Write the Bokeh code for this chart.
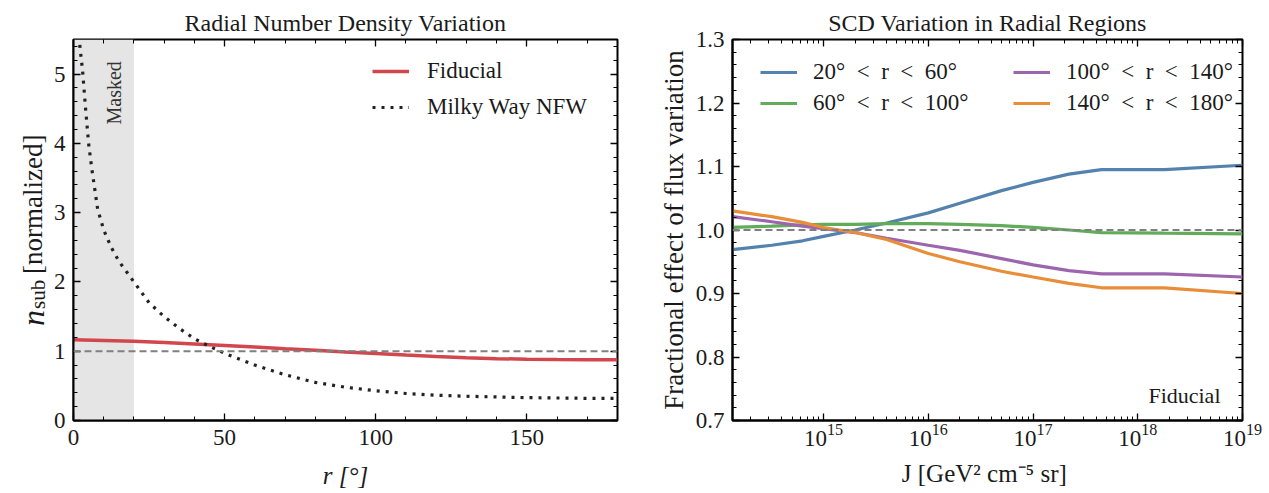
import math
from bokeh.plotting import figure
from bokeh.models import (Label, Legend, LegendItem, Span, BoxAnnotation, LinearAxis, LogAxis,
                          SingleIntervalTicker, LogTicker, NumeralTickFormatter, CustomJSTickFormatter)
from bokeh.layouts import row
from bokeh.embed import file_html
from bokeh.resources import INLINE

FONT = "Liberation Serif"
INK = "#1a1a1a"

# ---------------- data: left panel ----------------
r_fid = [0, 10, 20, 30, 40, 50, 60, 70, 80, 90, 100, 110, 120, 130, 140, 150, 160, 170, 180]
n_fid = [1.165, 1.155, 1.145, 1.125, 1.105, 1.083, 1.06, 1.036, 1.013, 0.99, 0.968, 0.945,
         0.925, 0.907, 0.893, 0.885, 0.88, 0.878, 0.877]
r_nfw = [1.0, 1.5, 2, 3, 4, 5, 6, 8, 10, 12.5, 15, 20, 25, 30, 35, 40, 45, 50, 60, 70, 80,
         90, 100, 110, 120, 130, 140, 150, 160, 170, 180]
n_nfw = [6.2, 5.6, 5.45, 5.05, 4.5, 4.0, 3.65, 3.05, 2.75, 2.5, 2.3, 2.0, 1.7, 1.5, 1.33, 1.18,
         1.07, 0.97, 0.80, 0.66, 0.55, 0.48, 0.43, 0.39, 0.365, 0.35, 0.34, 0.33, 0.325, 0.32, 0.32]
mask_edge = 20

# ---------------- data: right panel ----------------
J = [1.35e14, 3.2e14, 6.3e14, 1e15, 2e15, 4e15, 1e16, 2e16, 5e16, 1e17, 2.2e17, 4.5e17, 1.8e18, 1e19]
f_20_60 = [0.969, 0.976, 0.983, 0.990, 1.000, 1.011, 1.027, 1.042, 1.062, 1.075, 1.088, 1.095, 1.095, 1.102]
f_60_100 = [1.004, 1.006, 1.008, 1.009, 1.009, 1.010, 1.010, 1.009, 1.007, 1.004, 1.000, 0.996, 0.995, 0.994]
f_100_140 = [1.021, 1.013, 1.006, 1.002, 0.996, 0.987, 0.976, 0.968, 0.955, 0.945, 0.936, 0.931, 0.931, 0.926]
f_140_180 = [1.030, 1.021, 1.012, 1.004, 0.996, 0.985, 0.963, 0.950, 0.935, 0.926, 0.916, 0.909, 0.909, 0.900]
SP = "\u2002"
region_labels = [f"20°{SP}<{SP}r{SP}<{SP}60°", f"60°{SP}<{SP}r{SP}<{SP}100°",
                 f"100°{SP}<{SP}r{SP}<{SP}140°", f"140°{SP}<{SP}r{SP}<{SP}180°"]
region_colors = ["#5482ae", "#62ab5b", "#9d65ae", "#e88d38"]

# ---------------- geometry ----------------
H = 493
FH = 381
PB_TOP, PB_BOT = 39, 73
YLAB_W, MID_W = 50, 50
P1_L, FW1, P1_R = 22, 545, 23
P2_L, FW2, P2_R = 42, 510, 27


def blank_formatter():
    return CustomJSTickFormatter(code="return ''")


def style_axis(ax, labels=True, standoff=8):
    ax.major_tick_in = 7
    ax.major_tick_out = 0
    ax.minor_tick_in = 4
    ax.minor_tick_out = 0
    ax.major_tick_line_color = "black"
    ax.minor_tick_line_color = "black"
    ax.major_tick_line_width = 1.3
    ax.minor_tick_line_width = 1.0
    ax.axis_line_color = "black"
    ax.axis_line_width = 2
    ax.major_label_text_font = FONT
    ax.major_label_text_font_size = "23px"
    ax.major_label_text_color = INK
    ax.major_label_standoff = standoff
    ax.axis_label_text_font = FONT
    ax.axis_label_text_font_size = "25px"
    ax.axis_label_text_color = INK
    ax.axis_label_text_font_style = "normal"
    if not labels:
        ax.formatter = blank_formatter()
        ax.major_label_text_font_size = "0px"
        ax.major_label_standoff = 0
        ax.axis_line_color = None


def strip(w, h):
    s = figure(width=w, height=h, x_range=(0, w), y_range=(0, h), output_backend="svg",
               toolbar_location=None, title=None, min_border=0, frame_align=False,
               x_axis_location=None, y_axis_location=None)
    s.grid.visible = False
    s.outline_line_color = None
    return s


def txt(p, text, x, y, size, angle=0.0, align="left", baseline="alphabetic", style="normal",
        color=INK):
    p.add_layout(Label(x=x, y=y, text=text, angle=angle, text_align=align,
                       text_baseline=baseline, text_font=FONT, text_font_size=size,
                       text_font_style=style, text_color=color))


def style_title(p, text):
    p.title.text = text
    p.title.align = "center"
    p.title.text_font = FONT
    p.title.text_font_size = "24px"
    p.title.text_font_style = "normal"
    p.title.text_color = INK
    p.title.standoff = 8


# ================= left plot =================
p1 = figure(width=P1_L + FW1 + P1_R, height=H, x_range=(0, 180), y_range=(0, 5.5),
            output_backend="svg", toolbar_location=None, frame_align=False,
            min_border_left=P1_L, min_border_right=P1_R, min_border_top=PB_TOP,
            min_border_bottom=PB_BOT)
p1.grid.visible = False
p1.outline_line_color = "black"
p1.outline_line_width = 2
style_title(p1, "Radial Number Density Variation")

p1.xaxis.ticker = SingleIntervalTicker(interval=50, num_minor_ticks=5)
p1.yaxis.ticker = SingleIntervalTicker(interval=1, num_minor_ticks=5)
style_axis(p1.xaxis[0], standoff=9)
style_axis(p1.yaxis[0])
p1.xaxis.axis_label = "r [°]"
p1.xaxis.axis_label_text_font_style = "italic"
p1.xaxis.axis_label_standoff = 14
top1 = LinearAxis(ticker=SingleIntervalTicker(interval=50, num_minor_ticks=5))
right1 = LinearAxis(ticker=SingleIntervalTicker(interval=1, num_minor_ticks=5))
style_axis(top1, False)
style_axis(right1, False)
p1.add_layout(top1, "above")
p1.add_layout(right1, "right")

p1.add_layout(BoxAnnotation(left=0, right=mask_edge, fill_color="#e5e5e5", fill_alpha=1.0,
                            line_color=None, level="underlay"))
p1.add_layout(Span(location=1.0, dimension="width", line_color="#808080", line_width=2,
                   line_dash="7 4"))

l_fid = p1.line(r_fid, n_fid, line_color="#d1474d", line_width=3.5)
l_nfw = p1.line(r_nfw, n_nfw, line_color="#222222", line_width=3.2, line_dash="3 6",
                line_cap="butt")

leg1 = Legend(items=[LegendItem(label="Fiducial", renderers=[l_fid]),
                     LegendItem(label="Milky Way NFW", renderers=[l_nfw])],
              location=(299, 300), padding=0, margin=0, spacing=10, label_height=24,
              glyph_width=37, glyph_height=24, label_standoff=18,
              label_text_font=FONT, label_text_font_size="23px", label_text_color=INK,
              border_line_color=None, background_fill_alpha=0)
p1.add_layout(leg1)

p1.add_layout(Label(x=13.5, y=4.73, text="Masked", angle=math.pi / 2, text_align="center",
                    text_baseline="middle", text_font=FONT, text_font_size="20px",
                    text_color="#333333"))

# ================= right plot =================
p2 = figure(width=P2_L + FW2 + P2_R, height=H, x_range=(1.35e14, 1e19), y_range=(0.7, 1.3),
            x_axis_type="log", output_backend="svg", toolbar_location=None, frame_align=False,
            min_border_left=P2_L, min_border_right=P2_R, min_border_top=PB_TOP,
            min_border_bottom=PB_BOT)
p2.grid.visible = False
p2.outline_line_color = "black"
p2.outline_line_width = 2
style_title(p2, "SCD Variation in Radial Regions")

p2.xaxis.ticker = LogTicker(num_minor_ticks=10)
p2.yaxis.ticker = SingleIntervalTicker(interval=0.1, num_minor_ticks=5)
p2.yaxis.formatter = NumeralTickFormatter(format="0.0")
style_axis(p2.xaxis[0], standoff=3)
style_axis(p2.yaxis[0])
p2.xaxis.axis_label = "J  [GeV² cm⁻⁵ sr]"
p2.xaxis.axis_label_standoff = 11
top2 = LogAxis(ticker=LogTicker(num_minor_ticks=10))
right2 = LinearAxis(ticker=SingleIntervalTicker(interval=0.1, num_minor_ticks=5))
style_axis(top2, False)
style_axis(right2, False)
p2.add_layout(top2, "above")
p2.add_layout(right2, "right")

p2.add_layout(Span(location=1.0, dimension="width", line_color="#808080", line_width=2,
                   line_dash="7 4"))

series = [f_20_60, f_60_100, f_100_140, f_140_180]
rends = []
for ys, c in zip(series, region_colors):
    rends.append(p2.line(J, ys, line_color=c, line_width=3.2))

common = dict(padding=0, margin=0, spacing=5, label_height=24, glyph_width=37, glyph_height=24,
              label_standoff=16, label_text_font=FONT, label_text_font_size="23px",
              label_text_color=INK, border_line_color=None, background_fill_alpha=0)
leg2a = Legend(items=[LegendItem(label=region_labels[0], renderers=[rends[0]]),
                      LegendItem(label=region_labels[1], renderers=[rends[1]])],
               location=(28, 304), **common)
leg2b = Legend(items=[LegendItem(label=region_labels[2], renderers=[rends[2]]),
                      LegendItem(label=region_labels[3], renderers=[rends[3]])],
               location=(281, 304), **common)
p2.add_layout(leg2a)
p2.add_layout(leg2b)

p2.add_layout(Label(x=FW2 - 22, y=25, x_units="screen", y_units="screen", text="Fiducial",
                    text_align="right", text_baseline="alphabetic", text_font=FONT,
                    text_font_size="22px", text_color=INK))

# ================= side strips for the vertical axis labels =================
yc = PB_BOT + FH / 2

ylab = strip(YLAB_W, H)
y0 = yc - 96
txt(ylab, "n", 32, y0, "32px", angle=math.pi / 2, style="italic")
txt(ylab, "sub", 37, y0 + 17, "21px", angle=math.pi / 2)
txt(ylab, "[normalized]", 32, y0 + 52, "27px", angle=math.pi / 2)

mid = strip(MID_W, H)
txt(mid, "Fractional effect of flux variation", 33, yc, "27px", angle=math.pi / 2,
    align="center")

layout = row(ylab, p1, mid, p2)
open("out.html", "w").write(file_html(layout, INLINE))
